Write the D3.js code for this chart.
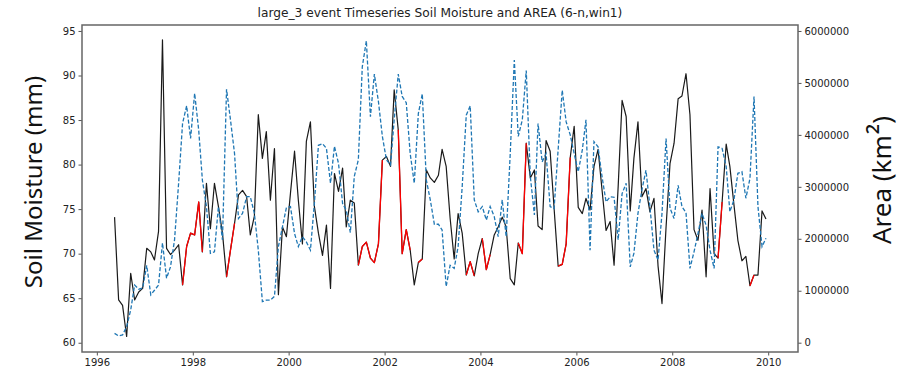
<!DOCTYPE html>
<html>
<head>
<meta charset="utf-8">
<script src="https://cdn.jsdelivr.net/npm/d3@7"></script>
<style>
  body { margin: 0; background: #fff; }
  .tick text { font-family: "DejaVu Sans", sans-serif; font-size: 10px; fill: #222; }
  .tick line { stroke: #555; }
  .domain { display: none; }
</style>
</head>
<body>
<script>
var margin = {top: 25, right: 117, bottom: 22, left: 82},
width = 716,
height = 327;

// monthly series, first value is May 1996
var startMonth = new Date(1996, 4, 15);

var soil = [74.1, 64.8, 64.2, 60.7, 67.8, 64.8, 65.7, 66.1, 70.6, 70.2,
69.3, 72.5, 94.0, 70.6, 69.9, 70.4, 71.0, 66.5, 70.8, 72.3,
72.1, 75.8, 70.2, 77.9, 72.8, 77.9, 75.3, 72.3, 67.4, 70.4,
73.4, 76.6, 77.1, 76.4, 72.1, 74.2, 85.6, 80.7, 83.7, 76.0,
81.8, 65.4, 73.0, 71.9, 76.8, 81.5, 76.0, 71.1, 82.6, 84.8,
75.3, 72.3, 69.8, 73.2, 66.1, 79.0, 77.0, 79.6, 73.0, 76.0,
75.7, 68.7, 70.8, 71.3, 69.5, 69.0, 71.1, 80.5, 80.9, 79.8,
88.4, 83.9, 70.0, 72.7, 70.4, 66.5, 69.0, 69.4, 79.4, 78.5,
78.0, 78.8, 81.7, 79.8, 74.0, 69.4, 74.5, 72.3, 67.6, 69.1,
67.5, 70.0, 71.7, 68.2, 69.9, 72.1, 73.0, 74.1, 73.0, 67.2,
66.5, 71.2, 70.0, 82.4, 78.5, 79.4, 73.1, 72.7, 82.7, 81.5,
75.1, 68.6, 68.8, 71.1, 80.8, 84.3, 75.2, 74.5, 76.2, 74.9,
79.8, 81.7, 77.2, 72.6, 73.6, 68.7, 77.5, 87.2, 85.4, 74.8,
80.7, 84.8, 76.4, 77.3, 74.7, 76.2, 68.6, 64.4, 73.0, 80.1,
82.4, 87.4, 87.7, 90.2, 85.6, 72.7, 71.5, 74.9, 67.4, 77.3,
70.0, 69.5, 75.8, 82.3, 79.8, 75.5, 71.5, 69.2, 69.7, 66.4,
67.6, 67.6, 74.8, 73.9];

var area = [180000, 130000, 150000, 310000, 630000, 1110000, 1030000, 1050000, 1490000, 920000,
1010000, 1110000, 1920000, 1240000, 1460000, 1980000, 3070000, 4220000, 4560000, 3930000,
4800000, 4090000, 3130000, 2620000, 1720000, 1750000, 2620000, 1980000, 4880000, 4290000,
3640000, 2390000, 2490000, 2810000, 2810000, 2490000, 1780000, 790000, 820000, 820000,
890000, 1850000, 2230000, 2600000, 2620000, 2100000, 1850000, 2040000, 1940000, 1780000,
2680000, 3800000, 3830000, 3740000, 3070000, 3780000, 3450000, 2680000, 2550000, 2120000,
3200000, 3520000, 5310000, 5810000, 4350000, 5170000, 4640000, 3970000, 3520000, 3420000,
4290000, 5170000, 4740000, 4620000, 3640000, 3070000, 4410000, 4790000, 3130000, 2750000,
2280000, 2280000, 2170000, 1080000, 1490000, 1430000, 1850000, 3000000, 4380000, 4560000,
2750000, 2520000, 2620000, 2360000, 2620000, 2430000, 2040000, 2750000, 2040000, 3640000,
5440000, 3970000, 4290000, 5240000, 3200000, 2460000, 4220000, 3480000, 3640000, 2620000,
2580000, 3720000, 4860000, 4250000, 4000000, 3640000, 3290000, 3710000, 4290000, 1780000,
3870000, 3770000, 3200000, 2710000, 2810000, 2800000, 1980000, 2870000, 3070000, 1460000,
1720000, 2490000, 2940000, 3320000, 2620000, 1780000, 1590000, 2490000, 3930000, 2590000,
2390000, 3030000, 2620000, 2500000, 1430000, 1750000, 2100000, 2490000, 2260000, 1780000,
1430000, 3770000, 3740000, 3390000, 2520000, 2750000, 3260000, 3290000, 2780000, 3160000,
4740000, 2620000, 1850000, 2010000];

// event periods (first and last month index of each)
var eventStart = [17, 28, 61, 71, 76, 88, 92, 101, 111, 151, 159];
var eventEnd   = [22, 30, 67, 74, 77, 90, 94, 103, 114, 152, 160];

var soilTicks = [60, 65, 70, 75, 80, 85, 90, 95];
var areaTicks = [0, 1000000, 2000000, 3000000, 4000000, 5000000, 6000000];

var data = soil.map(function (d, i) {
  return {date: d3.timeMonth.offset(startMonth, i), soil: d, area: area[i]};
});

var svg = d3.select('body').append('svg')
  .attr('width', width + margin.left + margin.right)
  .attr('height', height + margin.top + margin.bottom);
var g = svg.append('g').attr('transform', 'translate(' + margin.left + ',' + margin.top + ')');

var x = d3.scaleTime()
  .domain([new Date(1995, 8, 10), new Date(2010, 7, 16)])
  .range([0, width]);
var ySoil = d3.scaleLinear().domain([58.96, 95.67]).range([height, 0]);
var yArea = d3.scaleLinear().domain([-179000, 6115000]).range([height, 0]);

// axes
g.append('g')
  .attr('transform', 'translate(0,' + height + ')')
  .call(d3.axisBottom(x).ticks(d3.timeYear.every(2)).tickFormat(d3.timeFormat('%Y')).tickSize(3.5).tickPadding(3));
g.append('g')
  .call(d3.axisLeft(ySoil).tickValues(soilTicks).tickSize(3.5).tickPadding(3));
g.append('g')
  .attr('transform', 'translate(' + width + ',0)')
  .call(d3.axisRight(yArea).tickValues(areaTicks).tickFormat(d3.format('d')).tickSize(3.5).tickPadding(3));

// soil moisture line
var soilLine = d3.line()
  .x(function (d) { return x(d.date); })
  .y(function (d) { return ySoil(d.soil); });

g.append('path')
  .datum(data)
  .attr('fill', 'none')
  .attr('stroke', '#1a1a1a')
  .attr('stroke-width', 1.2)
  .attr('stroke-linejoin', 'round')
  .attr('d', soilLine);

// events in red
g.selectAll('.event')
  .data(eventStart)
  .enter().append('path')
  .attr('class', 'event')
  .attr('fill', 'none')
  .attr('stroke', '#ff0000')
  .attr('stroke-width', 1.3)
  .attr('stroke-linejoin', 'round')
  .attr('d', function (s, k) { return soilLine(data.slice(s, eventEnd[k] + 1)); });

// area on the right axis
g.append('path')
  .datum(data)
  .attr('fill', 'none')
  .attr('stroke', '#1f77b4')
  .attr('stroke-width', 1.3)
  .attr('stroke-dasharray', '4,2')
  .attr('d', d3.line()
    .x(function (d) { return x(d.date); })
    .y(function (d) { return yArea(d.area); }));

// frame
g.append('rect')
  .attr('width', width)
  .attr('height', height)
  .attr('fill', 'none')
  .attr('stroke', '#666')
  .attr('stroke-width', 1.5);

svg.append('text')
  .attr('x', margin.left + width / 2)
  .attr('y', 17)
  .attr('text-anchor', 'middle')
  .style('font-family', '"DejaVu Sans", sans-serif')
  .style('font-size', '12.2px')
  .style('fill', '#222')
  .text('large_3 event Timeseries Soil Moisture and AREA (6-n,win1)');

svg.append('text')
  .attr('transform', 'translate(42,182) rotate(-90)')
  .attr('text-anchor', 'middle')
  .style('font-family', '"Noto Sans", sans-serif')
  .style('font-size', '24px')
  .style('fill', '#111')
  .text('Soil Moisture (mm)');

var areaLabel = svg.append('text')
  .attr('transform', 'translate(891,180) rotate(-90)')
  .attr('text-anchor', 'middle')
  .style('font-family', '"Noto Sans", sans-serif')
  .style('font-size', '26px')
  .style('fill', '#111');
areaLabel.append('tspan').text('Area (km');
areaLabel.append('tspan').style('font-size', '30px').attr('dx', 1).text('²');
areaLabel.append('tspan').text(')');
</script>
</body>
</html>
